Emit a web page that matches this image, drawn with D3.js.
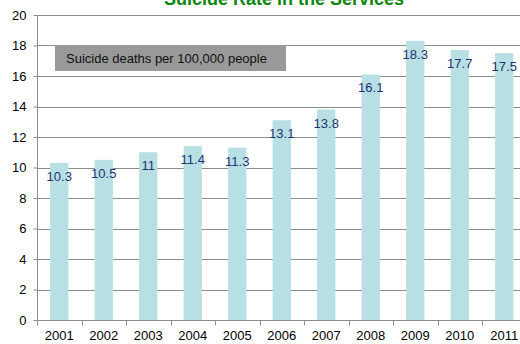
<!DOCTYPE html>
<html>
<head>
<meta charset="utf-8">
<script src="https://cdn.jsdelivr.net/npm/d3@7"></script>
<style>
  body { margin: 0; background: #fff; }
  svg { display: block; font-family: Arial, "Liberation Sans", sans-serif; }
</style>
</head>
<body>
<div class="container"></div>
<script>
// chart data
const years = ["2001", "2002", "2003", "2004", "2005", "2006", "2007", "2008", "2009", "2010", "2011"]
const rates = [10.3, 10.5, 11, 11.4, 11.3, 13.1, 13.8, 16.1, 18.3, 17.7, 17.5]
const yTicks = [0, 2, 4, 6, 8, 10, 12, 14, 16, 18, 20]
const chartTitle = "Suicide Rate in the Services"
const legendText = "Suicide deaths per 100,000 people"

const width = 520, height = 344
const margin = { left: 37, top: 15, bottom: 24 }

const svg = d3.select("div.container").append("svg")
    .attr("width", width)
    .attr("height", height)

// scales
const x = d3.scaleBand()
    .domain(years)
    .range([margin.left, margin.left + 44.5 * years.length])
    .paddingInner(0.59)
    .paddingOuter(0.295)

const y = d3.scaleLinear()
    .domain([0, 20])
    .range([height - margin.bottom, margin.top])

// gridlines
svg.append("g")
    .selectAll("line")
    .data(yTicks.filter(d => d > 0))
    .enter().append("line")
    .attr("x1", margin.left)
    .attr("x2", width)
    .attr("y1", d => Math.round(y(d)) + 0.5)
    .attr("y2", d => Math.round(y(d)) + 0.5)
    .attr("stroke", "#8c8c8c")
    .attr("stroke-width", 1)

// bars
svg.append("g")
    .selectAll("rect")
    .data(rates)
    .enter().append("rect")
    .attr("x", (d, i) => x(years[i]))
    .attr("width", x.bandwidth())
    .attr("y", d => y(d))
    .attr("height", d => y(0) - y(d))
    .attr("fill", "#b8dfe3")

// y axis
const yAxis = svg.append("g")
    .attr("transform", `translate(${margin.left + 0.5},0)`)
    .call(d3.axisLeft(y).tickValues(yTicks).tickSize(4).tickPadding(7).tickFormat(d3.format("d")))
yAxis.select(".domain").attr("stroke", "#8c8c8c").attr("d", `M0,${y(0)}V${y(20)}`)
yAxis.selectAll(".tick line").attr("stroke", "#8c8c8c")
yAxis.selectAll(".tick text").attr("font-size", 13).attr("fill", "#000")
    .attr("font-family", "Arial, 'Liberation Sans', sans-serif")

// x axis
const step = x.step()
const xAxis = svg.append("g")
    .attr("transform", `translate(0,${Math.round(y(0)) + 0.5})`)
xAxis.append("line")
    .attr("x1", margin.left).attr("x2", width)
    .attr("stroke", "#8c8c8c")
xAxis.selectAll("line.tk")
    .data(years)
    .enter().append("line")
    .attr("class", "tk")
    .attr("x1", d => Math.round(x(d) + x.bandwidth() / 2 - step / 2) + 0.5)
    .attr("x2", d => Math.round(x(d) + x.bandwidth() / 2 - step / 2) + 0.5)
    .attr("y1", 0).attr("y2", 5)
    .attr("stroke", "#8c8c8c")
xAxis.selectAll("text")
    .data(years)
    .enter().append("text")
    .attr("x", d => x(d) + x.bandwidth() / 2)
    .attr("y", 19)
    .attr("text-anchor", "middle")
    .attr("font-size", 13)
    .attr("fill", "#000")
    .text(d => d)

// value labels inside bar tops
svg.append("g")
    .selectAll("text")
    .data(rates)
    .enter().append("text")
    .attr("x", (d, i) => x(years[i]) + x.bandwidth() / 2)
    .attr("y", d => y(d) + 18)
    .attr("text-anchor", "middle")
    .attr("font-size", 13)
    .attr("fill", "#1b3470")
    .text(d => d)

// legend box
svg.append("rect")
    .attr("x", 55).attr("y", 45)
    .attr("width", 231).attr("height", 26)
    .attr("fill", "#999")
svg.append("text")
    .attr("x", 66).attr("y", 63)
    .attr("font-size", 13)
    .attr("fill", "#111")
    .text(legendText)

// title (cut off at top, as in the source)
svg.append("text")
    .attr("x", 284).attr("y", 5)
    .attr("text-anchor", "middle")
    .attr("font-size", 18)
    .attr("font-weight", "bold")
    .attr("fill", "#0f870f")
    .text(chartTitle)
</script>
</body>
</html>
